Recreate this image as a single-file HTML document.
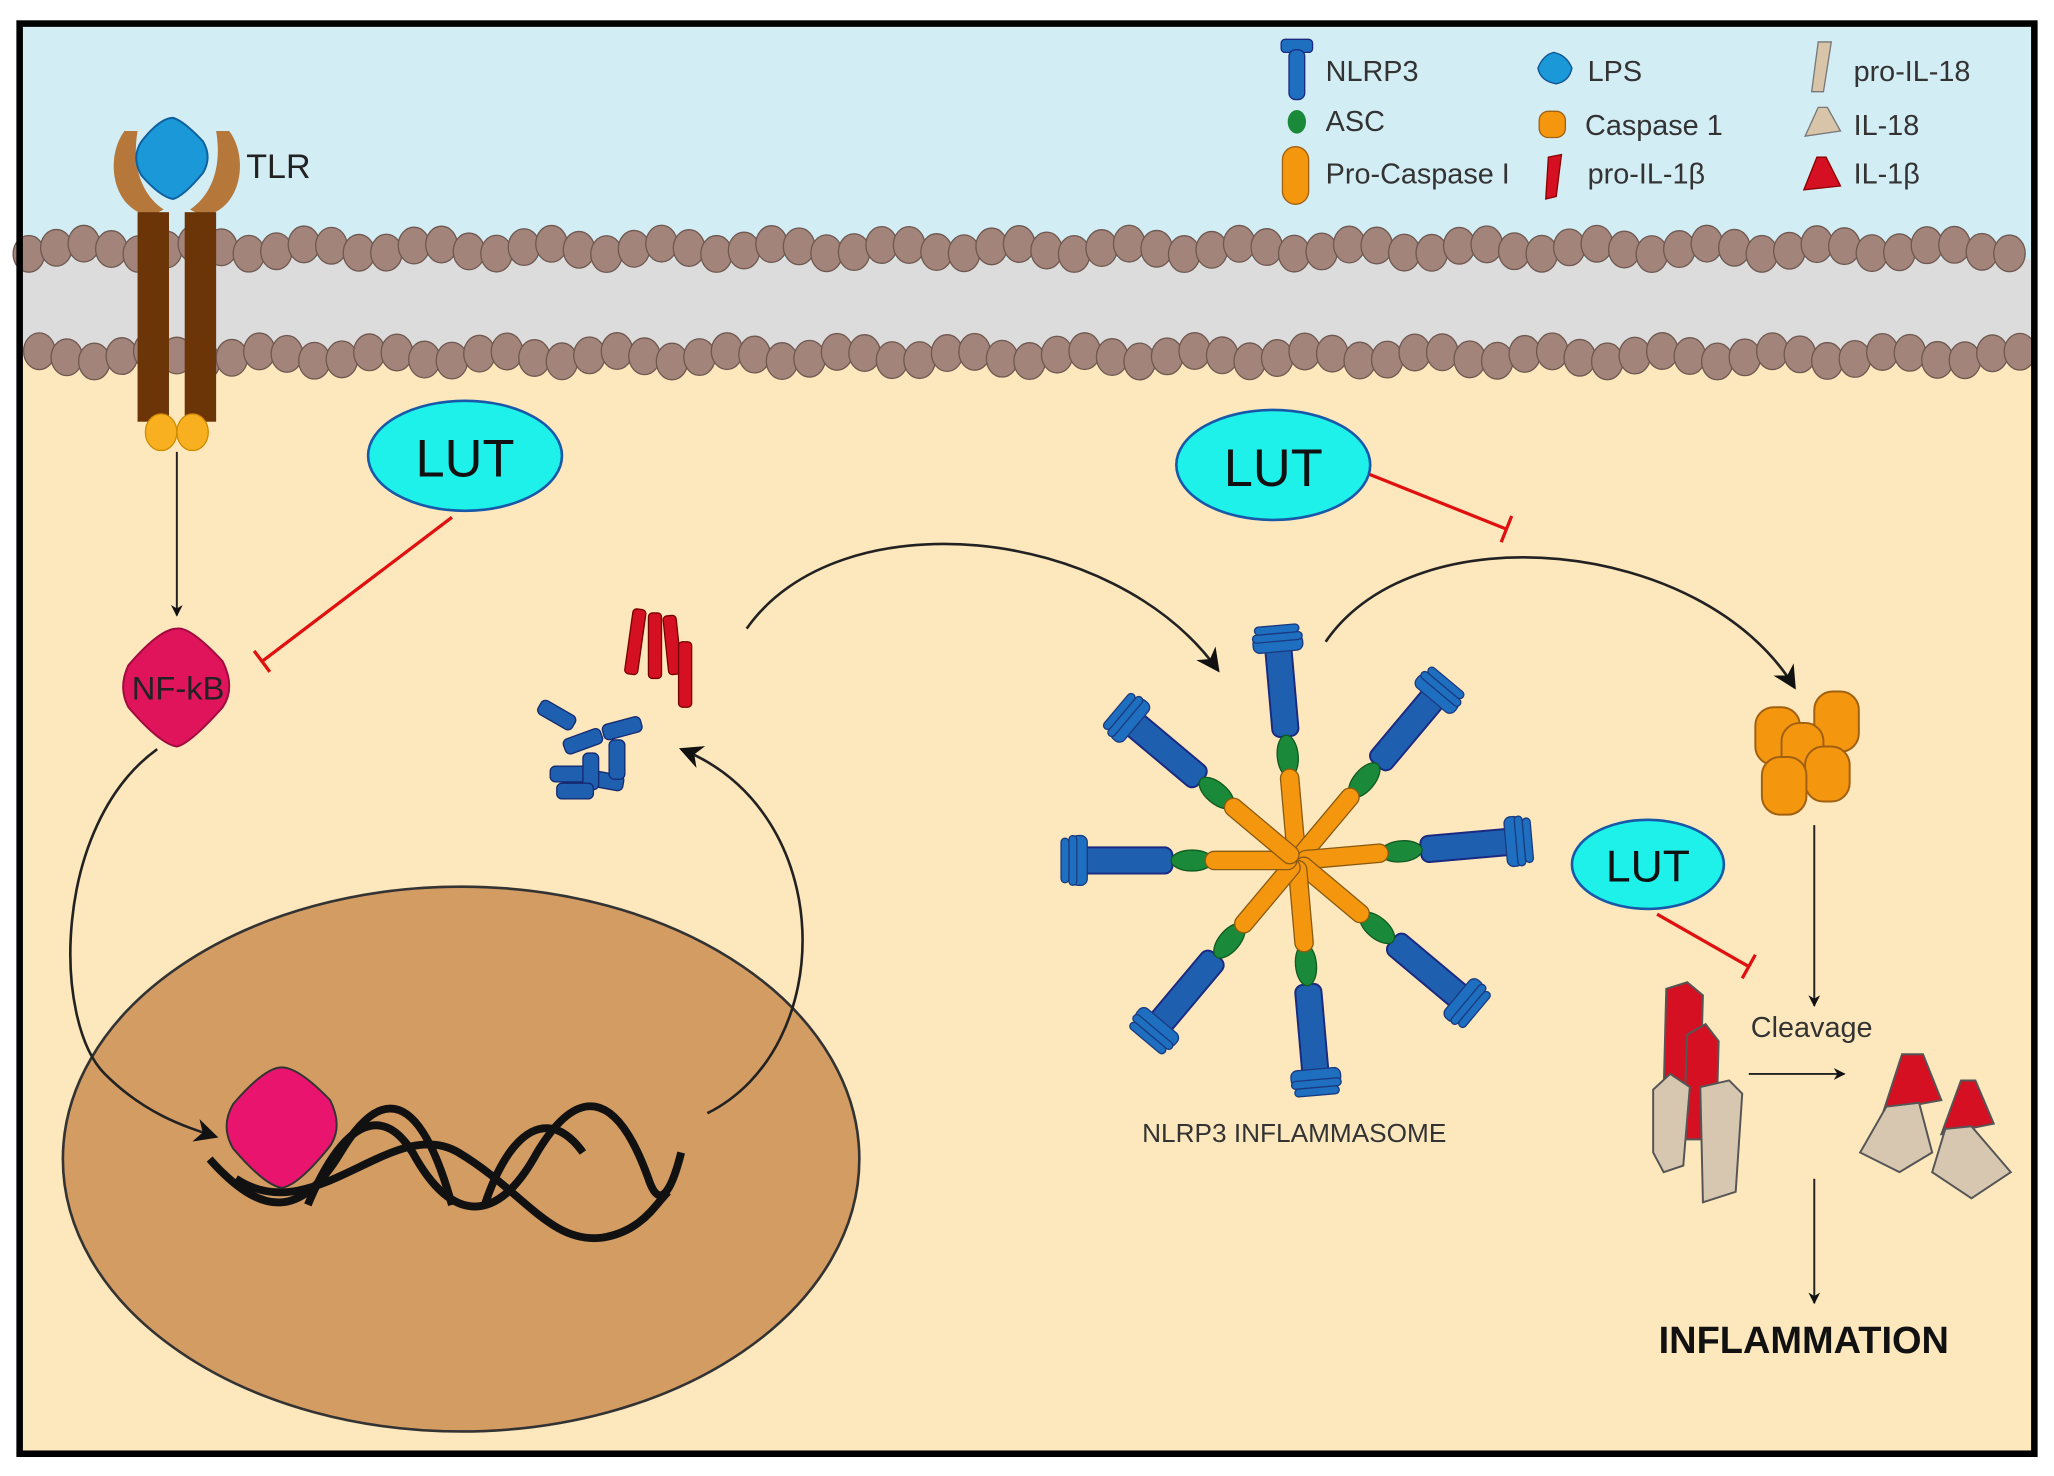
<!DOCTYPE html>
<html><head><meta charset="utf-8"><style>
html,body{margin:0;padding:0;background:#fff;width:2054px;height:1476px;overflow:hidden}
svg{display:block}
text{font-family:"Liberation Sans",sans-serif}
</style></head><body>
<svg id="s" width="2054" height="1476" viewBox="0 0 1568 1127" preserveAspectRatio="none" xmlns="http://www.w3.org/2000/svg">
<defs>
<marker id="ah" viewBox="0 0 10 10" refX="9" refY="5" markerWidth="9" markerHeight="9" orient="auto" markerUnits="userSpaceOnUse"><path d="M0,0 L10,5 L0,10 L3,5 Z" fill="#111"/></marker>
<marker id="ahb" viewBox="0 0 10 10" refX="9" refY="5" markerWidth="18" markerHeight="18" orient="auto" markerUnits="userSpaceOnUse"><path d="M0,0 L10,5 L0,10 L3,5 Z" fill="#111"/></marker>
<g id="nl"><rect x="95" y="-10" width="72" height="20" rx="6" fill="#1f5fb0" stroke="#1a2a80" stroke-width="1.5"/><rect x="160" y="-19" width="12" height="38" rx="5" fill="#1f6fc0" stroke="#1a3a80"/><rect x="168" y="-19" width="6" height="38" rx="3" fill="#1f6fc0" stroke="#1a3a80"/><rect x="174" y="-17" width="6" height="34" rx="3" fill="#1f6fc0" stroke="#1a3a80"/>
<ellipse cx="80" cy="0" rx="16" ry="8" fill="#1a8a3a" stroke="#0f5a20"/>
<rect x="0" y="-7" width="70" height="14" rx="7" fill="#f5960f" stroke="#8a5a10"/></g>
</defs>
<rect x="0" y="0" width="1568" height="1127" fill="#fff"/>
<rect x="15" y="18" width="1538" height="1092" fill="#fde8bd"/>
<rect x="15" y="18" width="1538" height="180" fill="#d3edf5"/>
<rect x="15" y="198" width="1538" height="70" fill="#dcdcdc"/>
<g id="mem"></g>
<!-- TLR -->
<path d="M95,100 C80,120 85,160 115,165 L125,160 C110,150 100,130 105,100 Z" fill="#b5773a"/>
<path d="M175,100 C190,120 185,160 155,165 L145,160 C160,150 170,130 165,100 Z" fill="#b5773a"/>
<path d="M132,90 Q140,92 155,108 Q162,120 155,132 Q140,150 132,152 Q122,150 108,134 Q100,120 108,108 Q122,90 132,90 Z" fill="#1a98d8" stroke="#1060a0" stroke-width="1.5"/>
<rect x="105" y="162" width="24" height="160" fill="#6b3508"/>
<rect x="141" y="162" width="24" height="160" fill="#6b3508"/>
<ellipse cx="123" cy="330" rx="12" ry="14" fill="#f8b020" stroke="#d08a00"/>
<ellipse cx="147" cy="330" rx="12" ry="14" fill="#f8b020" stroke="#d08a00"/>
<text x="188" y="136" font-size="26" fill="#222">TLR</text>
<!-- legend -->
<g font-size="22" fill="#333">
<rect x="978" y="30" width="24" height="10" rx="3" fill="#1f6fc0" stroke="#1a2a80"/><rect x="984" y="38" width="12" height="38" rx="5" fill="#1f6fc0" stroke="#1a2a80"/>
<text x="1012" y="62">NLRP3</text>
<ellipse cx="990" cy="93" rx="7" ry="9" fill="#1a8a3a"/><text x="1012" y="100">ASC</text>
<rect x="979" y="112" width="20" height="44" rx="10" fill="#f5960f" stroke="#a06010"/><text x="1012" y="140">Pro-Caspase I</text>
<path d="M1186,40 Q1196,42 1200,52 Q1198,62 1188,64 Q1176,62 1174,52 Q1178,42 1186,40 Z" fill="#1a98d8" stroke="#105090"/><text x="1212" y="62">LPS</text>
<rect x="1175" y="85" width="20" height="20" rx="7" fill="#f5960f" stroke="#a06010"/><text x="1210" y="103">Caspase 1</text>
<path d="M1182,120 L1192,118 L1188,150 L1180,152 Z" fill="#d51022" stroke="#800"/><text x="1212" y="140">pro-IL-1β</text>
<path d="M1388,32 L1398,32 L1392,70 L1383,70 Z" fill="#d8c4a8" stroke="#777"/><text x="1415" y="62">pro-IL-18</text>
<path d="M1388,82 L1395,82 L1405,100 L1378,104 Z" fill="#d8c4a8" stroke="#777"/><text x="1415" y="103">IL-18</text>
<path d="M1387,120 L1394,120 L1405,142 L1377,145 Z" fill="#d51022" stroke="#800"/><text x="1415" y="140">IL-1β</text>
</g>
<!-- nucleus -->
<ellipse cx="352" cy="885" rx="304" ry="208" fill="#d39c63" stroke="#333" stroke-width="2"/>
<g fill="none" stroke="#111" stroke-width="6">
<path d="M160,885 C200,930 230,930 260,880 C290,830 320,830 345,920"/>
<path d="M235,920 C260,860 290,840 315,880 C345,935 380,935 410,880 C440,830 470,830 495,900 C505,930 515,900 520,880"/>
<path d="M180,900 C240,940 300,850 350,880 C400,910 420,950 460,945 C490,940 500,920 510,910"/>
<path d="M370,920 C390,860 420,845 445,880"/>
</g>
<path d="M215,815 Q228,815 252,840 Q262,860 252,875 Q228,905 215,907 Q202,905 178,877 Q168,860 178,843 Q202,815 215,815 Z" fill="#e8146e" stroke="#333" stroke-width="1.5"/>
<!-- NF-kB -->
<path d="M135,480 Q145,478 170,505 Q180,525 170,540 Q145,568 135,570 Q122,568 98,540 Q90,525 98,508 Q122,480 135,480 Z" fill="#e0145a" stroke="#a00a40" stroke-width="1.5"/>
<text x="136" y="534" font-size="25" text-anchor="middle" fill="#222">NF-kB</text>
<line x1="135" y1="345" x2="135" y2="470" stroke="#222" stroke-width="1.5" marker-end="url(#ah)"/>
<!-- curves -->
<g fill="none" stroke="#222" stroke-width="2" marker-end="url(#ahb)">
<path d="M120,572 C40,630 40,780 80,820 C110,850 140,860 165,868"/>
<path d="M540,850 C640,800 640,620 520,572"/>
<path d="M570,480 C640,380 850,400 930,512"/>
<path d="M1012,490 C1080,390 1300,410 1370,525"/>
</g>
<g fill="none" stroke="#222" stroke-width="1.5" marker-end="url(#ah)">
<line x1="1385" y1="630" x2="1385" y2="768"/>
<line x1="1335" y1="820" x2="1408" y2="820"/>
<line x1="1385" y1="900" x2="1385" y2="995"/>
</g>
<!-- LUT -->
<g stroke="#e01010" stroke-width="2.5" fill="none">
<path d="M345,395 L200,505 M194,497 L206,513"/>
<path d="M1045,362 L1150,404 M1154,394 L1146,414"/>
<path d="M1265,698 L1335,738 M1340,729 L1330,747"/>
</g>
<g font-size="40" text-anchor="middle" fill="#111">
<ellipse cx="355" cy="348" rx="74" ry="42" fill="#1ef0ea" stroke="#1858a8" stroke-width="2"/><text x="355" y="364">LUT</text>
<ellipse cx="972" cy="355" rx="74" ry="42" fill="#1ef0ea" stroke="#1858a8" stroke-width="2"/><text x="972" y="371">LUT</text>
<ellipse cx="1258" cy="660" rx="58" ry="34" fill="#1ef0ea" stroke="#1858a8" stroke-width="2"/><text x="1258" y="673" font-size="34">LUT</text>
</g>
<!-- mini proteins -->
<g fill="#d51022" stroke="#700" stroke-width="1">
<rect x="480" y="465" width="10" height="50" rx="3" transform="rotate(8 485 490)"/>
<rect x="495" y="468" width="10" height="50" rx="3"/>
<rect x="508" y="470" width="10" height="45" rx="3" transform="rotate(-6 513 490)"/>
<rect x="518" y="490" width="10" height="50" rx="3"/>
</g>
<g fill="#1f5fb0" stroke="#142a70" stroke-width="1">
<rect x="410" y="540" width="30" height="12" rx="4" transform="rotate(30 425 546)"/>
<rect x="430" y="560" width="30" height="12" rx="4" transform="rotate(-20 445 566)"/>
<rect x="460" y="550" width="30" height="12" rx="4" transform="rotate(-15 475 556)"/>
<rect x="420" y="585" width="30" height="12" rx="4"/>
<rect x="448" y="590" width="28" height="12" rx="4" transform="rotate(10 462 596)"/>
<rect x="445" y="575" width="12" height="28" rx="4"/>
<rect x="465" y="565" width="12" height="30" rx="4"/>
<rect x="425" y="598" width="28" height="12" rx="4"/>
</g>
<!-- inflammasome -->
<g transform="translate(990,657)" id="inf"></g>
<text x="988" y="872" font-size="20" text-anchor="middle" fill="#333">NLRP3 INFLAMMASOME</text>
<!-- caspase -->
<g fill="#f5960f" stroke="#a06010" stroke-width="1.5">
<rect x="1340" y="540" width="34" height="44" rx="14"/>
<rect x="1385" y="528" width="34" height="46" rx="14"/>
<rect x="1360" y="552" width="32" height="50" rx="14"/>
<rect x="1378" y="570" width="34" height="42" rx="14"/>
<rect x="1345" y="578" width="34" height="44" rx="14"/>
</g>
<text x="1383" y="792" font-size="22" text-anchor="middle" fill="#333">Cleavage</text>
<!-- pro IL -->
<g stroke="#555" stroke-width="1.5">
<path d="M1272,755 L1288,750 L1300,760 L1298,830 L1270,835 Z" fill="#d51022"/>
<path d="M1288,790 L1302,782 L1312,795 L1310,870 L1285,870 Z" fill="#d51022"/>
<path d="M1262,832 L1275,820 L1290,830 L1285,890 L1270,895 L1262,880 Z" fill="#d7c7b0"/>
<path d="M1298,830 L1320,825 L1330,835 L1325,910 L1300,918 Z" fill="#d7c7b0"/>
<path d="M1452,805 L1468,805 L1482,840 L1438,848 Z" fill="#d51022"/>
<path d="M1497,825 L1508,825 L1522,858 L1482,866 Z" fill="#d51022"/>
<path d="M1440,845 L1465,842 L1475,880 L1450,895 L1420,880 Z" fill="#d7c7b0"/>
<path d="M1485,862 L1505,860 L1535,895 L1505,915 L1475,895 Z" fill="#d7c7b0"/>
</g>
<text x="1377" y="1033" font-size="29" font-weight="bold" text-anchor="middle" fill="#111">INFLAMMATION</text>
<rect x="15" y="18" width="1538" height="1092" fill="none" stroke="#000" stroke-width="5"/>
</svg>
<script>
var m=document.getElementById('mem'),s='';
for(var x=22;x<1550;x+=21){var d=Math.sin(x*0.37)*4;
s+='<ellipse cx="'+x+'" cy="'+(190+d)+'" rx="12" ry="14" fill="#a3847a" stroke="#6e5850"/>';
s+='<ellipse cx="'+(x+8)+'" cy="'+(272-d)+'" rx="12" ry="14" fill="#a3847a" stroke="#6e5850"/>';}
m.innerHTML=s;
var g=document.getElementById('inf'),t='';
[-95,-50,-5,40,85,130,180,220].forEach(function(a){t+='<use href="#nl" transform="rotate('+a+')"/>';});
g.innerHTML=t;
</script>
</body></html>
